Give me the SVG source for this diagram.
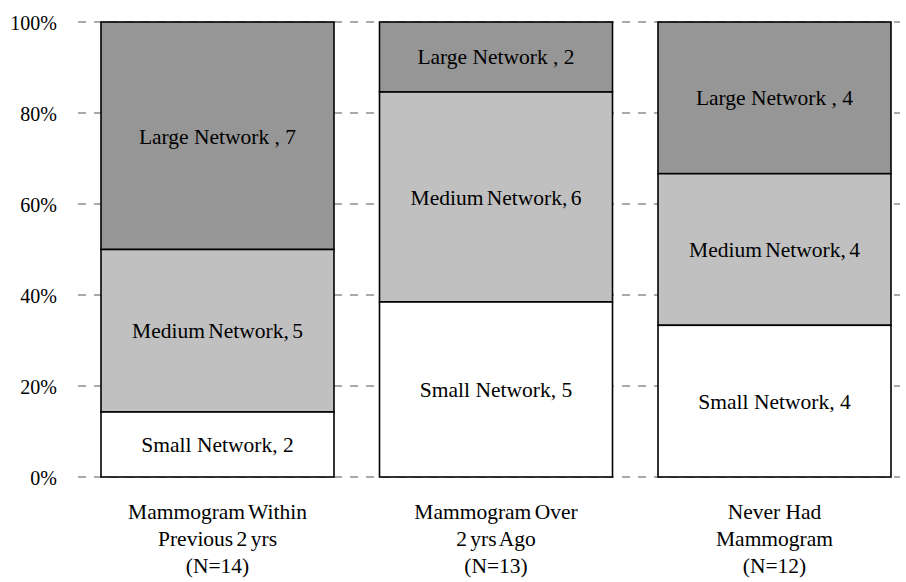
<svg xmlns="http://www.w3.org/2000/svg" width="906" height="582" viewBox="0 0 906 582" font-family="'Liberation Serif', 'Times New Roman', Times, serif">
  <style>
    text { font-family: "Liberation Serif", "Times New Roman", Times, serif; fill: #000; }
    .tick { font-size: 20px; text-anchor: end; }
    .lbl { font-size: 21.5px; text-anchor: middle; }
    .cat { font-size: 21.5px; text-anchor: middle; }
    .grid { stroke: #555; stroke-width: 1; stroke-dasharray: 8 8; fill: none; }
    .seg { stroke: #000; stroke-width: 1.6; }
    .large { fill: #969696; }
    .medium { fill: #c0c0c0; }
    .small { fill: #ffffff; }
    .tight { word-spacing: -2px; }
  </style>
  <rect width="906" height="582" fill="#fff"/>

  <!-- horizontal gridlines every 20% -->
  <g id="gridlines">
    <line class="grid" x1="78" y1="22" x2="900" y2="22"/>
    <line class="grid" x1="78" y1="113" x2="900" y2="113"/>
    <line class="grid" x1="78" y1="204" x2="900" y2="204"/>
    <line class="grid" x1="78" y1="295" x2="900" y2="295"/>
    <line class="grid" x1="78" y1="386" x2="900" y2="386"/>
    <line class="grid" x1="78" y1="477" x2="900" y2="477"/>
  </g>

  <!-- y axis labels -->
  <g id="y-axis">
    <text class="tick" x="57" y="30">100%</text>
    <text class="tick" x="57" y="121">80%</text>
    <text class="tick" x="57" y="212">60%</text>
    <text class="tick" x="57" y="303">40%</text>
    <text class="tick" x="57" y="394">20%</text>
    <text class="tick" x="57" y="485">0%</text>
  </g>

  <!-- bar 1: within previous 2 yrs (N=14) -->
  <g id="bar-within-2yrs">
    <rect class="seg large" x="101" y="22" width="233" height="227.5"/>
    <rect class="seg medium" x="101" y="249.5" width="233" height="162.5"/>
    <rect class="seg small" x="101" y="412" width="233" height="65"/>
    <text class="lbl" x="217.5" y="144">Large Network , 7</text>
    <text class="lbl" x="217.5" y="338"><tspan class="tight">Medium Network, 5</tspan></text>
    <text class="lbl" x="217.5" y="452">Small Network, 2</text>
  </g>

  <!-- bar 2: over 2 yrs ago (N=13) -->
  <g id="bar-over-2yrs">
    <rect class="seg large" x="379.5" y="22" width="233" height="70"/>
    <rect class="seg medium" x="379.5" y="92" width="233" height="210"/>
    <rect class="seg small" x="379.5" y="302" width="233" height="175"/>
    <text class="lbl" x="496" y="64">Large Network , 2</text>
    <text class="lbl" x="496" y="205"><tspan class="tight">Medium Network, 6</tspan></text>
    <text class="lbl" x="496" y="397">Small Network, 5</text>
  </g>

  <!-- bar 3: never had mammogram (N=12) -->
  <g id="bar-never">
    <rect class="seg large" x="658" y="22" width="233" height="151.7"/>
    <rect class="seg medium" x="658" y="173.7" width="233" height="151.6"/>
    <rect class="seg small" x="658" y="325.3" width="233" height="151.7"/>
    <text class="lbl" x="774.5" y="105">Large Network , 4</text>
    <text class="lbl" x="774.5" y="257"><tspan class="tight">Medium Network, 4</tspan></text>
    <text class="lbl" x="774.5" y="409">Small Network, 4</text>
  </g>

  <!-- category labels -->
  <g id="categories">
    <text class="cat" x="217.5" y="519"><tspan class="tight">Mammogram Within</tspan></text>
    <text class="cat" x="217.5" y="546"><tspan class="tight">Previous 2 yrs</tspan></text>
    <text class="cat" x="217.5" y="573">(N=14)</text>
    <text class="cat" x="496" y="519"><tspan class="tight">Mammogram Over</tspan></text>
    <text class="cat" x="496" y="546"><tspan class="tight">2 yrs Ago</tspan></text>
    <text class="cat" x="496" y="573">(N=13)</text>
    <text class="cat" x="774.5" y="519">Never Had</text>
    <text class="cat" x="774.5" y="546">Mammogram</text>
    <text class="cat" x="774.5" y="573">(N=12)</text>
  </g>
</svg>
